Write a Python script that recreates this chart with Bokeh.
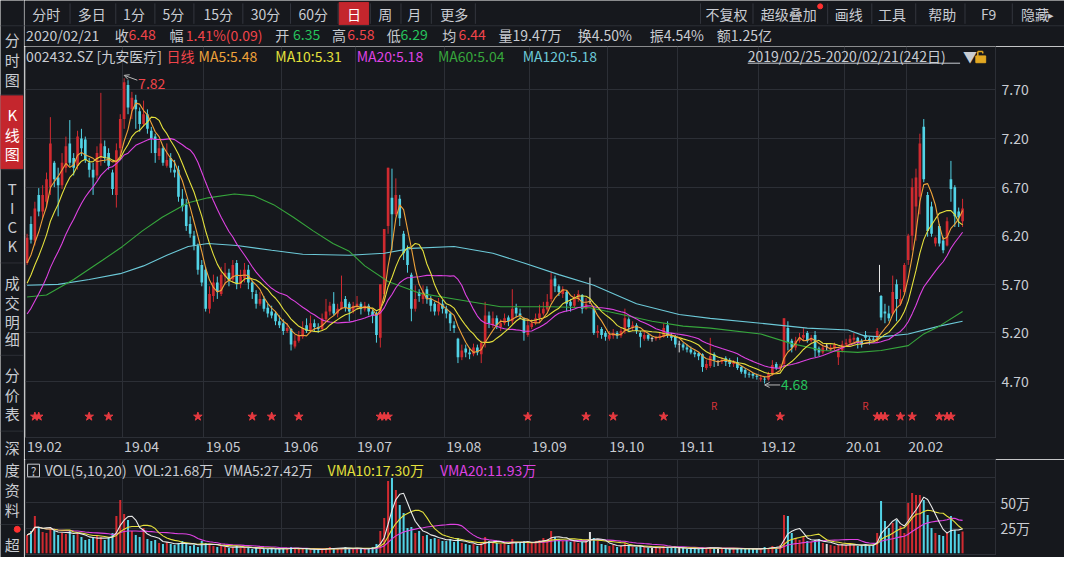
import json
import numpy as np
import pandas as pd
from bokeh.plotting import figure
from bokeh.models import (Range1d, FixedTicker, LinearAxis, NumeralTickFormatter, Grid,
                          PrintfTickFormatter, CustomJSTickFormatter, Arrow, OpenHead,
                          ColumnDataSource)
from bokeh.layouts import row, column
from bokeh.embed import file_html
from bokeh.resources import INLINE
from bokeh.core.properties import value

# ------------------------------------------------------------------ data
month_labels = ["19.02", "19.04", "19.05", "19.06", "19.07", "19.08", "19.09",
                "19.10", "19.11", "19.12", "20.01", "20.02"]
month_start = [0, 25, 46, 66, 85, 108, 130, 150, 168, 189, 211, 227]

# closes of the 19 sessions before 2019/02/25 (only used to warm up MA5/10/20)
prior_close = [5.00, 4.95, 4.98, 5.05, 5.02, 5.10, 5.08, 5.15, 5.25, 5.20,
               5.32, 5.45, 5.52, 5.58, 5.65, 5.75, 5.85, 5.90, 5.92]

open_ = [
    5.92, 6.32, 6.15, 6.62,
    6.45, 6.55, 6.70, 6.95, 6.80, 6.72, 6.90, 7.15, 7.00, 6.92, 7.20, 7.19, 6.95, 6.88, 6.82, 7.00, 7.12, 7.05, 6.85, 6.62, 7.10,
    7.40, 7.75, 7.50, 7.60, 7.48, 7.35, 7.45, 7.28, 7.22, 7.02, 7.10, 6.92, 7.00, 6.88, 6.88, 6.58, 6.52, 6.32, 6.20, 6.10, 5.90,
    5.85, 5.45, 5.58, 5.72, 5.60, 5.78, 5.82, 5.75, 5.92, 5.70, 5.76, 5.85, 5.72, 5.60, 5.50, 5.55, 5.46, 5.42, 5.40, 5.32,
    5.30, 5.22, 5.24, 5.06, 5.12, 5.16, 5.28, 5.22, 5.30, 5.26, 5.24, 5.34, 5.42, 5.50, 5.40, 5.45, 5.55, 5.50, 5.42,
    5.48, 5.50, 5.44, 5.48, 5.42, 5.40, 5.15, 5.60, 6.30, 6.59, 6.42, 6.58, 6.22, 6.05, 5.80, 5.45, 5.62, 5.55, 5.65, 5.55, 5.50, 5.42, 5.50,
    5.45, 5.40, 5.28, 5.14, 4.95, 5.04, 5.00, 4.98, 5.05, 4.98, 5.10, 5.38, 5.28, 5.35, 5.26, 5.30, 5.36, 5.32, 5.46, 5.40, 5.35, 5.18,
    5.26, 5.30, 5.35, 5.40, 5.44, 5.55, 5.76, 5.68, 5.60, 5.62, 5.52, 5.48, 5.55, 5.59, 5.45, 5.52, 5.45, 5.20, 5.24, 5.20,
    5.14, 5.17, 5.20, 5.17, 5.22, 5.34, 5.25, 5.28, 5.20, 5.14, 5.18, 5.14, 5.14, 5.15, 5.16, 5.28, 5.18, 5.16,
    5.08, 5.08, 5.05, 5.03, 5.00, 4.99, 4.98, 4.84, 4.86, 4.98, 4.90, 4.90, 4.94, 4.92, 4.88, 4.90, 4.85, 4.82, 4.78, 4.78, 4.76,
    4.72, 4.73, 4.72, 4.78, 4.88, 4.84, 4.88, 5.25, 5.12, 5.05, 5.12, 5.15, 5.20, 5.12, 5.18, 5.04, 5.00, 5.06, 5.03, 5.04, 4.95, 5.02,
    5.08, 5.10, 5.13, 5.15, 5.12, 5.18, 5.14, 5.14, 5.12, 5.58, 5.42, 5.40, 5.40, 5.70, 5.50, 5.62,
    5.95, 6.20, 6.50, 6.60, 7.32, 6.62, 6.50, 6.12, 6.30, 6.15, 6.10, 6.78, 6.70, 6.45, 6.35,
]
high = [
    6.22, 6.40, 6.55, 6.69,
    6.72, 6.85, 7.42, 6.97, 6.90, 7.05, 7.22, 7.39, 7.05, 7.28, 7.30, 7.22, 7.00, 6.95, 7.12, 7.67, 7.18, 7.10, 6.88, 7.15, 7.45,
    7.82, 7.80, 7.68, 7.65, 7.52, 7.59, 7.50, 7.32, 7.25, 7.18, 7.12, 7.15, 7.05, 6.98, 6.92, 6.68, 6.58, 6.40, 6.25, 6.12, 5.95,
    5.88, 5.68, 5.80, 5.78, 5.88, 5.92, 5.86, 5.95, 5.95, 5.85, 5.92, 5.90, 5.74, 5.64, 5.62, 5.58, 5.50, 5.48, 5.42, 5.38,
    5.34, 5.30, 5.25, 5.18, 5.22, 5.32, 5.35, 5.38, 5.34, 5.30, 5.40, 5.55, 5.52, 5.62, 5.50, 5.79, 5.58, 5.52, 5.52,
    5.58, 5.52, 5.52, 5.50, 5.44, 5.42, 5.70, 6.27, 6.90, 6.89, 6.79, 6.62, 6.25, 6.10, 5.82, 5.69, 5.65, 5.69, 5.68, 5.58, 5.52, 5.56, 5.54,
    5.48, 5.42, 5.32, 5.15, 5.08, 5.08, 5.05, 5.09, 5.08, 5.12, 5.52, 5.42, 5.42, 5.38, 5.34, 5.40, 5.38, 5.65, 5.50, 5.45, 5.36, 5.34,
    5.34, 5.40, 5.49, 5.52, 5.60, 5.82, 5.79, 5.70, 5.68, 5.64, 5.55, 5.60, 5.64, 5.60, 5.56, 5.77, 5.48, 5.28, 5.26, 5.22,
    5.22, 5.24, 5.22, 5.25, 5.45, 5.36, 5.32, 5.30, 5.22, 5.22, 5.19, 5.16, 5.17, 5.20, 5.30, 5.32, 5.20, 5.18,
    5.12, 5.10, 5.08, 5.06, 5.02, 5.00, 4.99, 4.92, 5.15, 5.00, 4.92, 4.95, 4.96, 4.94, 4.92, 4.95, 4.86, 4.84, 4.80, 4.79, 4.78,
    4.77, 4.75, 4.80, 4.92, 4.90, 4.88, 5.35, 5.32, 5.14, 5.16, 5.20, 5.25, 5.22, 5.18, 5.22, 5.06, 5.08, 5.09, 5.08, 5.10, 5.04, 5.12,
    5.14, 5.18, 5.20, 5.16, 5.14, 5.22, 5.16, 5.16, 5.25, 5.59, 5.50, 5.48, 5.79, 5.75, 5.65, 5.92,
    6.22, 6.79, 6.89, 7.25, 7.40, 6.65, 6.55, 6.19, 6.32, 6.19, 6.39, 6.97, 6.72, 6.49, 6.58,
]
low = [
    5.90, 6.12, 6.10, 6.40,
    6.38, 6.50, 6.62, 6.70, 6.40, 6.68, 6.85, 6.92, 6.82, 6.88, 7.02, 6.95, 6.80, 6.62, 6.78, 6.92, 6.95, 6.88, 6.62, 6.49, 7.02,
    7.30, 7.45, 7.40, 7.30, 7.27, 7.32, 7.25, 7.05, 6.95, 6.98, 6.92, 6.90, 6.85, 6.80, 6.55, 6.45, 6.25, 6.18, 6.05, 5.80, 5.68,
    5.42, 5.40, 5.52, 5.55, 5.58, 5.70, 5.68, 5.72, 5.65, 5.66, 5.72, 5.65, 5.55, 5.45, 5.48, 5.42, 5.36, 5.35, 5.28, 5.25,
    5.18, 5.20, 5.02, 5.04, 5.10, 5.14, 5.20, 5.20, 5.22, 5.20, 5.22, 5.32, 5.38, 5.38, 5.36, 5.44, 5.42, 5.32, 5.40,
    5.44, 5.39, 5.42, 5.38, 5.30, 5.10, 5.05, 5.52, 6.22, 6.05, 6.40, 6.30, 5.95, 5.82, 5.32, 5.42, 5.52, 5.50, 5.50, 5.42, 5.38, 5.38, 5.40,
    5.35, 5.22, 5.20, 4.89, 4.92, 4.95, 4.93, 4.96, 4.97, 4.89, 5.05, 5.25, 5.25, 5.24, 5.22, 5.28, 5.27, 5.29, 5.36, 5.34, 5.12, 5.16,
    5.24, 5.28, 5.30, 5.38, 5.42, 5.52, 5.62, 5.58, 5.56, 5.42, 5.42, 5.46, 5.52, 5.40, 5.44, 5.50, 5.18, 5.15, 5.14, 5.12,
    5.12, 5.14, 5.14, 5.15, 5.19, 5.22, 5.22, 5.19, 5.05, 5.12, 5.12, 5.11, 5.12, 5.13, 5.15, 5.15, 5.12, 5.05,
    5.00, 5.02, 5.00, 4.98, 4.95, 4.92, 4.80, 4.82, 4.84, 4.85, 4.86, 4.88, 4.86, 4.85, 4.85, 4.82, 4.78, 4.74, 4.74, 4.73, 4.72,
    4.70, 4.68, 4.71, 4.76, 4.82, 4.82, 4.84, 5.02, 5.00, 5.02, 5.10, 5.12, 5.10, 5.10, 4.95, 4.96, 4.98, 5.02, 5.01, 5.02, 4.87, 5.00,
    5.06, 5.08, 5.10, 5.04, 5.05, 5.12, 5.08, 5.11, 5.10, 5.33, 5.30, 5.32, 5.38, 5.32, 5.48, 5.60,
    5.90, 6.05, 6.15, 6.42, 6.75, 6.19, 6.19, 6.09, 6.09, 6.02, 6.09, 6.55, 6.29, 6.29, 6.29,
]
close = [
    6.18, 6.16, 6.48, 6.45,
    6.62, 6.78, 7.15, 6.78, 6.72, 6.95, 7.12, 6.95, 6.90, 7.22, 7.10, 6.98, 6.88, 6.80, 7.05, 7.15, 7.00, 6.92, 6.68, 7.08, 7.40,
    7.78, 7.52, 7.62, 7.50, 7.35, 7.45, 7.30, 7.20, 7.05, 7.10, 6.95, 6.98, 6.90, 6.85, 6.60, 6.50, 6.30, 6.22, 6.10, 5.85, 5.72,
    5.45, 5.60, 5.72, 5.62, 5.80, 5.82, 5.75, 5.90, 5.70, 5.78, 5.85, 5.72, 5.62, 5.50, 5.55, 5.45, 5.40, 5.38, 5.32, 5.28,
    5.22, 5.25, 5.08, 5.12, 5.18, 5.25, 5.22, 5.30, 5.26, 5.24, 5.35, 5.42, 5.48, 5.40, 5.45, 5.52, 5.46, 5.42, 5.48,
    5.50, 5.45, 5.48, 5.42, 5.38, 5.18, 5.70, 6.27, 6.90, 6.42, 6.62, 6.38, 6.02, 5.90, 5.45, 5.55, 5.58, 5.62, 5.55, 5.48, 5.42, 5.50, 5.45,
    5.40, 5.30, 5.25, 4.95, 5.02, 5.00, 4.98, 5.05, 5.00, 5.10, 5.38, 5.30, 5.35, 5.28, 5.30, 5.35, 5.32, 5.45, 5.40, 5.38, 5.20, 5.28,
    5.30, 5.35, 5.40, 5.45, 5.52, 5.75, 5.68, 5.62, 5.65, 5.50, 5.48, 5.55, 5.60, 5.45, 5.50, 5.52, 5.20, 5.22, 5.18, 5.16,
    5.18, 5.20, 5.17, 5.22, 5.35, 5.26, 5.28, 5.22, 5.16, 5.18, 5.14, 5.14, 5.15, 5.17, 5.25, 5.18, 5.15, 5.08,
    5.08, 5.05, 5.03, 5.00, 4.98, 4.96, 4.85, 4.88, 4.96, 4.92, 4.90, 4.92, 4.90, 4.88, 4.89, 4.84, 4.80, 4.78, 4.77, 4.76, 4.75,
    4.74, 4.72, 4.78, 4.87, 4.84, 4.86, 5.35, 5.10, 5.05, 5.12, 5.15, 5.18, 5.12, 5.15, 5.02, 5.00, 5.05, 5.06, 5.05, 5.08, 5.02, 5.08,
    5.10, 5.14, 5.15, 5.10, 5.08, 5.15, 5.12, 5.13, 5.22, 5.36, 5.40, 5.35, 5.62, 5.55, 5.55, 5.90,
    6.20, 6.70, 6.80, 7.15, 6.78, 6.25, 6.22, 6.18, 6.12, 6.05, 6.35, 6.68, 6.40, 6.39, 6.48,
]
volume = [  # 万股
    18, 22, 37, 26,
    21, 20, 24, 22, 18, 20, 19, 23, 18, 20, 16, 13, 14, 15, 17, 16, 13, 15, 20, 37, 53,
    39, 33, 22, 18, 16, 25, 14, 12, 13, 10, 9, 11, 9, 8, 10, 12, 9, 7, 8, 6, 12,
    10, 8, 7, 6, 7, 6, 5, 6, 7, 5, 6, 5, 4, 5, 5, 4, 4, 5, 4, 4,
    5, 4, 6, 5, 4, 4, 4, 3, 4, 3, 4, 5, 6, 5, 4, 5, 6, 5, 4,
    5, 4, 4, 5, 6, 9, 22, 35, 72, 75, 63, 48, 40, 25, 26, 20, 22, 17, 18, 14, 15, 14, 12,
    12, 14, 11, 15, 10, 9, 8, 9, 7, 10, 16, 12, 11, 10, 9, 10, 8, 14, 11, 10, 12, 11,
    10, 12, 13, 15, 14, 22, 16, 14, 12, 13, 11, 12, 10, 11, 12, 21, 15, 12, 9, 8,
    7, 8, 6, 7, 10, 7, 6, 6, 7, 6, 5, 5, 5, 6, 7, 6, 5, 5,
    5, 5, 4, 4, 5, 4, 6, 5, 6, 5, 4, 4, 4, 4, 5, 4, 5, 4, 4, 4, 4,
    5, 6, 5, 7, 6, 8, 38, 37, 20, 15, 13, 16, 12, 11, 13, 14, 10, 9, 8, 7, 8, 9,
    8, 9, 8, 7, 8, 9, 7, 8, 20, 52, 32, 25, 30, 33, 27, 20,
    50, 60, 58, 58, 53, 38, 25, 20, 18, 17, 20, 37, 23, 19, 21.68,
]
# MA60 / MA120 (session index, value)
ma60_x = [0, 5, 12, 19.5, 24.6, 29.7, 34.8, 41.5, 46.6, 53.4, 58.5, 63.5, 68.6, 73.7, 78.8,
          83, 87, 93, 101, 110, 122, 135, 145, 152, 161, 169, 176, 189, 197, 205, 214, 220,
          227, 231, 235, 241]
ma60_y = [5.57, 5.59, 5.75, 5.95, 6.09, 6.25, 6.39, 6.54, 6.59, 6.63, 6.61, 6.52, 6.39, 6.25, 6.12,
          6.04, 5.89, 5.73, 5.61, 5.55, 5.47, 5.47, 5.46, 5.40, 5.32, 5.27, 5.25, 5.19, 5.09, 5.02,
          5.00, 5.02, 5.07, 5.19, 5.27, 5.42]
ma120_x = [0, 8, 16, 24, 30, 36, 41.5, 46.6, 54, 63, 71, 83, 92, 99, 110, 120, 128, 137, 146,
           157, 168, 176, 189, 201, 211.5, 215.7, 220, 227, 235, 241]
ma120_y = [5.69, 5.70, 5.75, 5.81, 5.89, 6.00, 6.09, 6.12, 6.10, 6.05, 6.01, 6.00, 6.02, 6.07,
           6.09, 6.02, 5.92, 5.80, 5.69, 5.50, 5.39, 5.35, 5.30, 5.25, 5.23, 5.17, 5.16, 5.19,
           5.27, 5.32]
star_days = [2, 3, 16, 21, 44, 58, 63, 70, 91, 92, 93, 129, 144, 151, 164, 194, 219, 220,
             221, 225, 228, 235, 237, 238]
r_days = [177, 216]
price_ticks = [4.70, 5.20, 5.70, 6.20, 6.70, 7.20, 7.70]
vol_ticks = [25, 50]

# ------------------------------------------------------------------ style
BG = "#16181d"
GRID = "#2c2f36"
TXT = "#c9ccd2"
UP = "#d02a30"
DN = "#52d3e6"
FLAT = "#e0e0e0"
RED_T = "#f0444a"
GREEN_T = "#26c35c"
C_MA5, C_MA10, C_MA20 = "#eea23a", "#e4e03c", "#de42e2"
C_MA60, C_MA120 = "#36a63c", "#6cc9d8"
FONT = "Noto Sans CJK SC"

W, H = 1064, 557                     # drawn size; reference is 1080 x 573
SX, SY = W / 1080, H / 573
SIDE_W = 24
MAIN_W = W - SIDE_W
HEAD_H, PRICE_H = 46, 413
VOL_H = H - HEAD_H - PRICE_H
BORDER_L, BORDER_R = 1, 69
PP_BOTTOM, VP_BOTTOM = 22, 3

# reference-pixel extents of the two frames
FR_L = (SIDE_W + BORDER_L) / SX
FR_R = (W - BORDER_R) / SX
PP_TOP = HEAD_H / SY
PP_BOT = (HEAD_H + PRICE_H - PP_BOTTOM) / SY
VP_TOP = (HEAD_H + PRICE_H) / SY
VP_BOT = (H - VP_BOTTOM) / SY


def px_i(xr):      # reference pixel column -> session index
    return (xr - 27) / 3.94


def py_p(yr):      # reference pixel row -> price
    return 7.70 - (yr - 92) / 100


def vy_v(yr):      # reference pixel row -> volume (万)
    return (568.5 - yr) / 1.032


def base_fig(**kw):
    p = figure(output_backend="svg", toolbar_location=None, x_axis_location=None,
               y_axis_location=None, background_fill_color=BG, border_fill_color=BG,
               outline_line_color=None, **kw)
    p.xgrid.visible = False
    p.ygrid.visible = False
    return p


def txt(p, xs, ys, texts, colors, size, align="left", baseline="middle", **kw):
    p.text(x=xs, y=ys, text=texts, text_color=colors, text_font=value(FONT),
           text_font_size=size, text_align=align, text_baseline=baseline, **kw)


N = len(close)
idx = np.arange(N)
o, h, l, c = (np.array(a, dtype=float) for a in (open_, high, low, close))
vol = np.array(volume, dtype=float)
colors = np.where(c > o, UP, np.where(c < o, DN, FLAT)).tolist()
body_top = np.maximum(o, c)
body_bot = np.minimum(o, c)
body_top = np.where(c == o, body_top + 0.008, body_top)

allc = pd.Series(prior_close + close, dtype=float)
ma = {n: allc.rolling(n, min_periods=1).mean().values[len(prior_close):] for n in (5, 10, 20)}
vs = pd.Series(vol)
vma = {n: vs.rolling(n, min_periods=1).mean().values for n in (5, 10, 20)}

month_lines = [m - 0.5 for m in month_start[1:]]

# ------------------------------------------------------------------ sidebar
sb = base_fig(width=SIDE_W, height=H, x_range=Range1d(0, SIDE_W / SX), y_range=Range1d(573, 0),
              min_border=0)
sb.quad(left=[0], right=[23], top=[98], bottom=[173], color="#c4262d")
sb.segment(x0=[0] * 7, x1=[23] * 7, y0=[26, 97, 174, 270, 365, 443, 539],
           y1=[26, 97, 174, 270, 365, 443, 539], line_color=GRID, line_width=1)
sb.segment(x0=[23.6], x1=[23.6], y0=[0], y1=[573], line_color=GRID, line_width=1)
side = [("分", 40), ("时", 61), ("图", 81), ("T", 193), ("I", 213), ("C", 232), ("K", 252),
        ("成", 290), ("交", 311), ("明", 330), ("细", 348), ("分", 385), ("价", 405),
        ("表", 425), ("深", 460), ("度", 482), ("资", 503), ("料", 524), ("超", 560)]
txt(sb, [12] * len(side), [s[1] for s in side], [s[0] for s in side], TXT, "15px", "center")
kk = [("K", 117), ("线", 138), ("图", 157)]
txt(sb, [12] * 3, [s[1] for s in kk], [s[0] for s in kk], "#ffffff", "15px", "center")
sb.scatter(x=[17], y=[544], size=6, color="#ff3030")

# ------------------------------------------------------------------ header (tabs + quote row)
hd = base_fig(width=MAIN_W, height=HEAD_H, x_range=Range1d(SIDE_W / SX, 1080),
              y_range=Range1d(HEAD_H / SY, 0), min_border=0)
hd.quad(left=[343.7], right=[373.6], top=[2], bottom=[25], color="#c4262d")
seps = [70.6, 117, 156.7, 196.3, 246, 294.4, 342.6, 375.4, 406.5, 437.3, 482,
        710.5, 763.8, 839.6, 884.4, 929, 979, 1027]
hd.segment(x0=seps, x1=seps, y0=[3] * len(seps), y1=[24] * len(seps), line_color="#33363e")
hd.segment(x0=[24], x1=[1080], y0=[26], y1=[26], line_color=GRID)
tabs = [("分时", 46.5), ("多日", 92.6), ("1分", 135.5), ("5分", 175.5), ("15分", 221),
        ("30分", 269), ("60分", 317.5), ("周", 390.5), ("月", 420), ("更多", 460.5),
        ("不复权", 737), ("超级叠加", 800), ("画线", 861), ("工具", 905), ("帮助", 956),
        ("F9", 1003), ("隐藏", 1050)]
txt(hd, [t[1] for t in tabs], [13.5] * len(tabs), [t[0] for t in tabs], TXT, "14px", "center")
txt(hd, [358.7], [13.5], ["日"], "#ffffff", "14px", "center")
txt(hd, [1066.5], [13.5], ["▸"], TXT, "11px", "center")
hd.scatter(x=[832], y=[6], size=5, color="#ff3030")

info = [("2020/02/21", 26, TXT), ("收", 116, TXT), ("6.48", 130, RED_T), ("幅", 171.5, TXT),
        ("1.41%(0.09)", 188, RED_T), ("开", 279, TXT), ("6.35", 297, GREEN_T),
        ("高", 336.5, TXT), ("6.58", 352, RED_T), ("低", 392, TXT), ("6.29", 406, GREEN_T),
        ("均", 448.5, TXT), ("6.44", 465, RED_T), ("量19.47万", 505.5, TXT),
        ("换4.50%", 586, TXT), ("振4.54%", 659, TXT), ("额1.25亿", 727, TXT)]
txt(hd, [t[1] for t in info], [35.0] * len(info), [t[0] for t in info],
    [t[2] for t in info], "14px")

# ------------------------------------------------------------------ price panel
xr = Range1d(px_i(FR_L), px_i(FR_R))
pp = base_fig(width=MAIN_W, height=PRICE_H, x_range=xr, y_range=Range1d(py_p(PP_BOT), py_p(PP_TOP)),
              min_border_left=BORDER_L, min_border_right=BORDER_R, min_border_top=0,
              min_border_bottom=PP_BOTTOM)
pp.add_layout(Grid(dimension=0, ticker=FixedTicker(ticks=month_lines), grid_line_color=GRID))
pp.add_layout(Grid(dimension=1, ticker=FixedTicker(ticks=price_ticks), grid_line_color=GRID))

src = ColumnDataSource(dict(x=idx, top=body_top, bottom=body_bot, hi=h, lo=l, color=colors))
pp.segment(x0="x", y0="hi", x1="x", y1="lo", line_color="color", line_width=1, source=src)
pp.vbar(x="x", width=0.68, top="top", bottom="bottom", fill_color="color", line_color=None,
        source=src)

pp.line(ma120_x, ma120_y, line_color=C_MA120, line_width=1.1)
pp.line(ma60_x, ma60_y, line_color=C_MA60, line_width=1.1)
pp.line(idx, ma[20], line_color=C_MA20, line_width=1.1)
pp.line(idx, ma[10], line_color=C_MA10, line_width=1.1)
pp.line(idx, ma[5], line_color=C_MA5, line_width=1.1)

# small white event mark above the mid-January candles
pp.segment(x0=[219.6], x1=[219.6], y0=[5.62], y1=[5.90], line_color="#e6e6e6", line_width=1)

hi_i = int(np.argmax(h))
lo_i = int(np.argmin(l))
pp.add_layout(Arrow(end=OpenHead(size=5, line_color="#b8b8b8", line_width=1),
                    x_start=hi_i + 3.4, y_start=h[hi_i] - 0.02, x_end=hi_i, y_end=h[hi_i] + 0.03,
                    line_color="#b8b8b8", line_width=1))
txt(pp, [hi_i + 3.6], [h[hi_i] - 0.05], [f"{h[hi_i]:.2f}"], RED_T, "14px")
pp.add_layout(Arrow(end=OpenHead(size=5, line_color="#b8b8b8", line_width=1),
                    x_start=lo_i + 4.0, y_start=l[lo_i] - 0.015, x_end=lo_i, y_end=l[lo_i] - 0.015,
                    line_color="#b8b8b8", line_width=1))
txt(pp, [lo_i + 4.2], [l[lo_i] - 0.015], [f"{l[lo_i]:.2f}"], GREEN_T, "14px")

pp.scatter(x=star_days, y=[py_p(428)] * len(star_days), marker="star", size=9,
           color="#e83a40")
txt(pp, r_days, [py_p(417)] * len(r_days), ["R"] * len(r_days), "#d8343a", "10px", "center")

# indicator title row (inside the price frame, like the reference)
ma_y = py_p(56.6)
marow = [("002432.SZ", 26, TXT), ("[九安医疗]", 97.5, TXT), ("日线", 168.5, RED_T),
         ("MA5:5.48", 201, C_MA5), ("MA10:5.31", 279, C_MA10), ("MA20:5.18", 361.5, C_MA20),
         ("MA60:5.04", 444, C_MA60), ("MA120:5.18", 530, C_MA120),
         ("2019/02/25-2020/02/21(242日)", 758.5, TXT), ("▼", 977, TXT)]
txt(pp, [px_i(t[1]) for t in marow], [ma_y] * len(marow), [t[0] for t in marow],
    [t[2] for t in marow], "14px")
pp.segment(x0=[px_i(758.5)], x1=[px_i(974)], y0=[py_p(64.5)], y1=[py_p(64.5)],
           line_color=TXT, line_width=1)
pp.quad(left=[px_i(990)], right=[px_i(1000)], top=[py_p(57)], bottom=[py_p(64)], color="#e2a822")
pp.segment(x0=[px_i(992), px_i(992), px_i(997)], x1=[px_i(992), px_i(997), px_i(997)],
           y0=[py_p(57), py_p(52.5), py_p(52.5)], y1=[py_p(52.5), py_p(52.5), py_p(54.5)],
           line_color="#e2a822", line_width=1.5)

yax = LinearAxis(ticker=FixedTicker(ticks=price_ticks), formatter=NumeralTickFormatter(format="0.00"),
                 axis_line_color=GRID, major_tick_line_color=None, minor_tick_line_color=None,
                 major_tick_out=0, major_tick_in=0, major_label_standoff=6,
                 major_label_text_color=TXT, major_label_text_font=FONT,
                 major_label_text_font_size="14px")
pp.add_layout(yax, "right")
lab_ticks = [round(m - 0.5 + 5.0, 1) for m in month_start]
lab_map = {f"{t:.1f}": s for t, s in zip(lab_ticks, month_labels)}
xax = LinearAxis(ticker=FixedTicker(ticks=lab_ticks),
                 formatter=CustomJSTickFormatter(code="const m = " + json.dumps(lab_map) +
                                                 "; return m[tick.toFixed(1)] || '';"),
                 axis_line_color=GRID, major_tick_line_color=None, minor_tick_line_color=None,
                 major_tick_out=0, major_tick_in=0, major_label_standoff=3,
                 major_label_text_color=TXT, major_label_text_font=FONT,
                 major_label_text_font_size="14px")
pp.add_layout(xax, "below")

# ------------------------------------------------------------------ volume panel
vp = base_fig(width=MAIN_W, height=VOL_H, x_range=xr, y_range=Range1d(vy_v(VP_BOT), vy_v(VP_TOP)),
              min_border_left=BORDER_L, min_border_right=BORDER_R, min_border_top=0,
              min_border_bottom=VP_BOTTOM)
vp.outline_line_color = GRID
vp.add_layout(Grid(dimension=0, ticker=FixedTicker(ticks=month_lines), grid_line_color=GRID))
vp.add_layout(Grid(dimension=1, ticker=FixedTicker(ticks=[25, 50, 75]), grid_line_color=GRID))
vp.vbar(x=idx, width=0.52, top=vol, bottom=0, fill_color=colors, line_color=None)
vp.line(idx, vma[20], line_color=C_MA20, line_width=1.1)
vp.line(idx, vma[10], line_color=C_MA10, line_width=1.1)
vp.line(idx, vma[5], line_color="#e8e8e8", line_width=1.1)

vy = vy_v(483.5)
vp.quad(left=[px_i(27.5)], right=[px_i(39.6)], top=[vy_v(477)], bottom=[vy_v(490)],
        fill_color=None, line_color=TXT, line_width=1)
txt(vp, [px_i(33.6)], [vy], ["?"], TXT, "12px", "center")
vhead = [("VOL(5,10,20)", 44.8, TXT), ("VOL:21.68万", 136, TXT), ("VMA5:27.42万", 227, TXT),
         ("VMA10:17.30万", 332, C_MA10), ("VMA20:11.93万", 446, C_MA20)]
txt(vp, [px_i(t[1]) for t in vhead], [vy] * len(vhead), [t[0] for t in vhead],
    [t[2] for t in vhead], "14px")

vax = LinearAxis(ticker=FixedTicker(ticks=vol_ticks), formatter=PrintfTickFormatter(format="%d万"),
                 axis_line_color=None, major_tick_line_color=None, minor_tick_line_color=None,
                 major_tick_out=0, major_tick_in=0, major_label_standoff=5,
                 major_label_text_color=TXT, major_label_text_font=FONT,
                 major_label_text_font_size="14px")
vp.add_layout(vax, "right")

# the chrome figures must not be frame-aligned with the chart panels
for fig in (sb, hd):
    try:
        fig.frame_align = False
    except Exception:
        pass

layout = row(sb, column(hd, pp, vp, spacing=0), spacing=0)
with open("out.html", "w") as f:
    f.write(file_html(layout, INLINE, "002432.SZ 九安医疗 日线"))
